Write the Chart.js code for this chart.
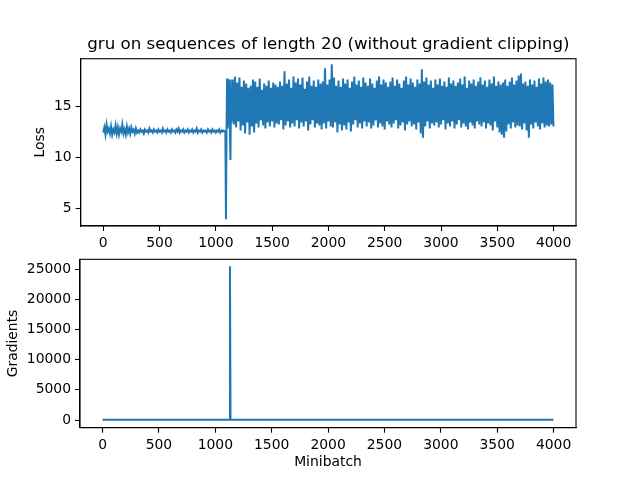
<!DOCTYPE html>
<html>
<head>
<meta charset="utf-8">
<script src="https://cdn.jsdelivr.net/npm/chart.js@4.4.1/dist/chart.umd.min.js"></script>
<style>
  html, body { margin: 0; padding: 0; background: #fff; }
  #wrap { position: relative; width: 640px; height: 480px; overflow: hidden; }
  .box { position: absolute; left: 0; width: 640px; }
  #top { top: 0; height: 250px; }
  #bottom { top: 245px; height: 235px; }
</style>
</head>
<body>
<div id="wrap">
  <div class="box" id="top"><canvas id="loss"></canvas></div>
  <div class="box" id="bottom"><canvas id="grad"></canvas></div>
</div>
<script>
// minibatch ticks
const xTicks = [0, 500, 1000, 1500, 2000, 2500, 3000, 3500, 4000];
const lossTicks = [5, 10, 15];
const gradTicks = [0, 5000, 10000, 15000, 20000, 25000];

// loss, minibatch 0..1080 every 10
const earlyLoss = [
    12.4, 12.9, 12.2, 13.2, 12.5, 12.8, 12.3, 13.0, 12.2, 12.7, 12.4, 13.1, 12.3, 12.9, 12.2, 12.8,
    12.5, 13.2, 12.3, 12.7, 12.2, 13.0, 12.4, 12.8, 12.3, 12.9, 12.5, 12.7, 12.3, 12.8, 12.4,
    12.6, 12.4, 12.7, 12.5, 12.6, 12.3, 12.7, 12.5, 12.6, 12.4, 12.8, 12.5, 12.6, 12.4, 12.7, 12.5, 12.6, 12.4, 12.7, 12.5,
    12.6, 12.4, 12.8, 12.5, 12.6, 12.4, 12.7, 12.5, 12.6, 12.4, 12.7, 12.5, 12.6, 12.4, 12.7, 12.5, 12.8, 12.4, 12.6, 12.5,
    12.7, 12.4, 12.6, 12.5, 12.7, 12.4, 12.6, 12.5, 12.7, 12.4, 12.6, 12.5, 12.8, 12.4, 12.6, 12.5, 12.7, 12.4, 12.6, 12.5,
    12.6, 12.4, 12.7, 12.5, 12.6, 12.4, 12.7, 12.5, 12.6, 12.4, 12.6, 12.5, 12.7, 12.4, 12.6, 12.5, 12.6, 12.5
];

// loss around the collapse
const spikeMinibatch = [1085, 1090, 1095, 1100, 1105, 1110, 1115, 1120, 1125, 1130, 1135, 1140, 1145];
const spikeLoss = [12.5, 3.9, 12.4, 17.7, 12.8, 17.4, 13.1, 17.6, 12.9, 9.7, 16.9, 13.4, 17.5];

// loss, minibatch 1150..3990 every 10
const lateLoss = [
    17.6, 13.2, 17.9, 12.9, 17.3, 13.5, 17.8, 12.6, 16.9, 13.1, 17.5, 12.3, 17.2, 13.4, 16.8, 12.2, 17.0, 13.0, 17.6, 12.4,
    17.4, 13.3, 16.9, 12.9, 17.7, 13.6, 16.6, 13.1, 17.2, 12.8, 17.0, 13.4, 17.5, 13.0, 16.8, 13.5, 17.3, 12.9, 17.1, 13.3,
    16.9, 13.2, 17.4, 13.6, 17.0, 12.7, 18.4, 13.1, 17.2, 13.5, 17.6, 12.9, 16.8, 13.3, 17.9, 13.0, 17.3, 13.6, 17.7, 12.8,
    17.1, 13.4, 17.8, 13.0, 16.7, 13.5, 17.4, 12.6, 17.9, 13.2, 17.0, 13.6, 17.5, 12.9, 16.9, 13.3, 17.6, 13.1, 17.2, 12.7,
    17.4, 13.3, 18.7, 12.8, 17.1, 13.5, 17.6, 13.0, 19.1, 12.9, 17.8, 13.4, 17.0, 12.4, 17.5, 13.2, 16.9, 12.6, 17.7, 13.1,
    17.2, 12.7, 17.6, 13.4, 16.8, 12.5, 17.4, 13.2, 17.9, 13.6, 17.1, 12.9, 17.5, 13.3, 16.9, 12.8, 17.8, 13.5, 17.3, 13.0,
    17.0, 13.4, 17.7, 12.8, 17.2, 13.1, 16.8, 13.6, 17.5, 12.9, 17.9, 13.3, 17.1, 13.0, 17.6, 12.7, 17.3, 13.5, 16.9, 13.2,
    17.4, 12.9, 17.8, 13.3, 17.0, 13.6, 17.6, 12.8, 17.2, 13.1, 16.8, 13.4, 17.5, 12.6, 17.9, 13.2, 17.1, 13.5, 17.7, 13.0,
    17.3, 13.2, 16.9, 12.7, 17.6, 13.4, 17.2, 12.3, 18.6, 11.9, 17.4, 13.0, 17.8, 13.5, 17.1, 12.8, 17.5, 13.3, 16.8, 13.1,
    17.6, 13.4, 17.1, 12.9, 17.7, 13.2, 17.0, 13.6, 17.4, 12.7, 16.9, 13.3, 17.8, 13.0, 17.2, 13.5, 17.5, 12.8, 17.0, 13.2,
    17.3, 13.6, 17.7, 12.9, 17.1, 13.3, 17.9, 13.0, 16.8, 12.7, 17.5, 13.4, 17.2, 13.1, 17.6, 12.8, 17.0, 13.5, 17.4, 13.2,
    17.8, 13.0, 17.1, 13.4, 17.5, 12.8, 16.9, 13.3, 17.6, 13.1, 17.2, 12.6, 17.9, 13.5, 17.0, 12.9, 17.4, 12.4, 17.1, 12.2,
    17.3, 11.9, 17.6, 12.5, 17.0, 13.2, 17.4, 12.8, 17.8, 13.4, 17.1, 12.9, 17.5, 13.1, 18.0, 13.0, 18.2, 12.7, 17.2, 13.3,
    17.4, 12.6, 17.0, 11.9, 17.6, 13.2, 17.1, 12.8, 17.5, 13.4, 16.9, 13.0, 17.7, 12.7, 17.2, 13.3, 17.8, 12.9, 17.4, 13.1,
    17.6, 13.0, 17.3, 13.2, 17.1
];
const lossEnd = [3999, 13.0];

// gradient norm
const gradMinibatch = [0, 500, 1000, 1125, 1130, 1135, 1500, 2000, 2500, 3000, 3500, 3999];
const gradValues = [40, 30, 30, 60, 25500, 80, 50, 40, 40, 40, 40, 40];

const blue = '#1f77b4';
const font = { family: 'DejaVu Sans', size: 13.9 };

let lossPoints = [];
earlyLoss.forEach((v, i) => lossPoints.push({ x: i * 10, y: v }));
spikeMinibatch.forEach((m, i) => lossPoints.push({ x: m, y: spikeLoss[i] }));
lateLoss.forEach((v, i) => lossPoints.push({ x: 1150 + i * 10, y: v }));
lossPoints.push({ x: lossEnd[0], y: lossEnd[1] });

let gradPoints = gradMinibatch.map((m, i) => ({ x: m, y: gradValues[i] }));

// black frame round the plot area, like matplotlib spines
const frame = {
    id: 'frame',
    afterDraw(chart) {
        const a = chart.chartArea;
        const ctx = chart.ctx;
        ctx.save();
        ctx.strokeStyle = '#000';
        ctx.lineWidth = 1.1;
        ctx.strokeRect(a.left, a.top, a.right - a.left, a.bottom - a.top);
        ctx.restore();
    }
};

function axis(ticks, min, max, size, title, titlePad) {
    return {
        type: 'linear',
        min: min,
        max: max,
        afterBuildTicks: s => { s.ticks = ticks.map(v => ({ value: v })); },
        afterFit: s => { if (s.isHorizontal()) s.height = size; else s.width = size; },
        grid: { drawOnChartArea: false, drawTicks: true, tickLength: 5, tickColor: '#000', tickWidth: 1.1 },
        border: { display: true, color: '#000', width: 1.1 },
        ticks: { color: '#000', font: font, padding: 4, maxRotation: 0, autoSkip: false, callback: v => String(v) },
        title: { display: !!title, text: title, color: '#000', font: font, padding: titlePad }
    };
}

new Chart(document.getElementById('loss'), {
    type: 'line',
    data: { datasets: [{ data: lossPoints, borderColor: blue, borderWidth: 2, pointRadius: 0, tension: 0 }] },
    options: {
        responsive: true,
        maintainAspectRatio: false,
        animation: false,
        layout: { padding: { left: 26.7, right: 64, top: 0, bottom: 0 } },
        plugins: {
            legend: { display: false },
            tooltip: { enabled: false },
            title: {
                display: true,
                text: 'gru on sequences of length 20 (without gradient clipping)',
                color: '#000',
                fullSize: false,
                font: { family: 'DejaVu Sans', size: 16.7, weight: 'normal' },
                padding: { top: 35, bottom: 3.7 }
            }
        },
        scales: {
            x: axis(xTicks, -200, 4199, 24, '', 0),
            y: axis(lossTicks, 3.24, 19.64, 54, 'Loss', { top: 4.9, bottom: 0 })
        }
    },
    plugins: [frame]
});

new Chart(document.getElementById('grad'), {
    type: 'line',
    data: { datasets: [{ data: gradPoints, borderColor: blue, borderWidth: 2, pointRadius: 0, tension: 0 }] },
    options: {
        responsive: true,
        maintainAspectRatio: false,
        animation: false,
        layout: { padding: { left: 0, right: 64, top: 14.3, bottom: 0 } },
        plugins: { legend: { display: false }, tooltip: { enabled: false } },
        scales: {
            x: axis(xTicks, -200, 4199, 52.3, 'Minibatch', { top: 0, bottom: 9.6 }),
            y: axis(gradTicks, -1275, 26650, 80, 'Gradients', { top: 4.9, bottom: 0 })
        }
    },
    plugins: [frame]
});
</script>
</body>
</html>
